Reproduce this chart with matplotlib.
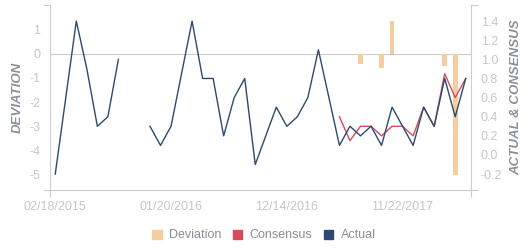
import numpy as np
import matplotlib
matplotlib.use("Agg")
import matplotlib.pyplot as plt
from matplotlib.patches import Patch

plt.rcParams['font.family'] = ['Liberation Sans', 'DejaVu Sans']
plt.rcParams['axes.unicode_minus'] = False

nan = np.nan

# release dates (one per category, only every 11th is labelled)
dates = ['02/18/2015', '03/18/2015', '04/15/2015', '05/13/2015', '06/17/2015',
         '07/15/2015', '08/12/2015', '09/16/2015', '10/14/2015', '11/17/2015',
         '12/15/2015', '01/20/2016', '02/17/2016', '03/15/2016', '04/13/2016',
         '05/13/2016', '06/15/2016', '07/15/2016', '08/16/2016', '09/15/2016',
         '10/14/2016', '11/15/2016', '12/14/2016', '01/18/2017', '02/15/2017',
         '03/15/2017', '04/13/2017', '05/12/2017', '06/14/2017', '07/14/2017',
         '08/11/2017', '09/14/2017', '10/13/2017', '11/22/2017', '12/13/2017',
         '01/12/2018', '02/14/2018', '03/13/2018', '04/11/2018', '05/10/2018']

actual = [-0.2, 0.6, 1.4, 0.9, 0.3, 0.4, 1.0, nan, nan, 0.3,
          0.1, 0.3, 0.85, 1.4, 0.8, 0.8, 0.2, 0.6, 0.8, -0.1,
          0.2, 0.5, 0.3, 0.4, 0.6, 1.1, 0.6, 0.1, 0.3, 0.2,
          0.3, 0.1, 0.5, 0.3, 0.1, 0.5, 0.3, 0.8, 0.4, 0.8]

consensus = [nan] * 27 + [0.4, 0.15, 0.3, 0.3, 0.2, 0.3, 0.3, 0.2, 0.5, 0.3, 0.85, 0.6, 0.8]

deviation = [nan] * 29 + [-0.45, nan, -0.6, 1.35, nan, nan, nan, nan, -0.5, -5.0, nan]

dev_ticks = [-5, -4, -3, -2, -1, 0, 1]
ac_ticks = [-0.2, 0.0, 0.2, 0.4, 0.6, 0.8, 1.0, 1.2, 1.4]

c_dev = '#f5cd9f'
c_con = '#d64a5c'
c_act = '#2c4a70'
c_axis = '#cccccc'
c_tick = '#c6c6c6'
c_title = '#8a909a'

fig = plt.figure(figsize=(5.31, 2.5), dpi=100)
ax = fig.add_axes([50 / 531, 0.24, 421 / 531, 0.74])
ax2 = ax.twinx()

x = np.arange(len(dates))
dev = np.array(deviation)
mask = ~np.isnan(dev)

ax.axhline(0, color=c_axis, lw=0.8, zorder=1)
ax.bar(x[mask], dev[mask], width=0.45, color=c_dev, zorder=2)
ax2.plot(x, consensus, color=c_con, lw=1.0)
ax2.plot(x, actual, color=c_act, lw=1.0)

ylo, yhi = -5.62, 2.0
ax.set_ylim(ylo, yhi)
rlo, rhi = -0.366, 1.568
ax2.set_ylim(rlo, rhi)
ax.set_xlim(-0.5, len(dates) - 0.5)

ax.set_yticks(dev_ticks)
ax.set_yticklabels([str(v) for v in dev_ticks])
ax2.set_yticks(ac_ticks)
ax2.set_yticklabels(['%.1f' % v for v in ac_ticks])
ax.set_xticks(x[::11])
ax.set_xticklabels(dates[::11])

# small end ticks where the axes cross
ax.set_yticks([ylo, yhi], minor=True)
ax2.set_yticks([rlo, rhi], minor=True)
ax.set_xticks([-0.5, len(dates) - 0.5], minor=True)

for a in (ax, ax2):
    for s in a.spines.values():
        s.set_color(c_axis)
        s.set_linewidth(0.8)
    a.spines['top'].set_visible(False)
    a.tick_params(which='major', length=0, labelsize=9, labelcolor=c_tick, pad=7)
    a.tick_params(which='minor', length=5, color=c_axis, width=0.8)
ax.spines['right'].set_visible(False)
ax2.spines['left'].set_visible(False)
ax2.spines['bottom'].set_visible(False)
ax.tick_params(axis='x', which='major', pad=8)

fig.text(17.5 / 531, 1 - 97 / 250, 'DEVIATION', rotation=90, ha='center', va='center',
         fontsize=9.5, style='italic', fontweight='bold', color=c_title)
fig.text(516 / 531, 1 - 97 / 250, 'ACTUAL & CONSENSUS', rotation=90, ha='center', va='center',
         fontsize=9.5, style='italic', fontweight='bold', color=c_title)

handles = [Patch(color=c_dev, label='Deviation'),
           Patch(color=c_con, label='Consensus'),
           Patch(color=c_act, label='Actual')]
fig.legend(handles=handles, loc='center', bbox_to_anchor=(264 / 531, 1 - 235.5 / 250),
           ncol=3, frameon=False, fontsize=9, labelcolor='#8c8c98',
           handlelength=0.75, handleheight=0.75, handletextpad=0.6, columnspacing=0.9,
           borderpad=0)

fig.savefig('out.png', dpi=100)
